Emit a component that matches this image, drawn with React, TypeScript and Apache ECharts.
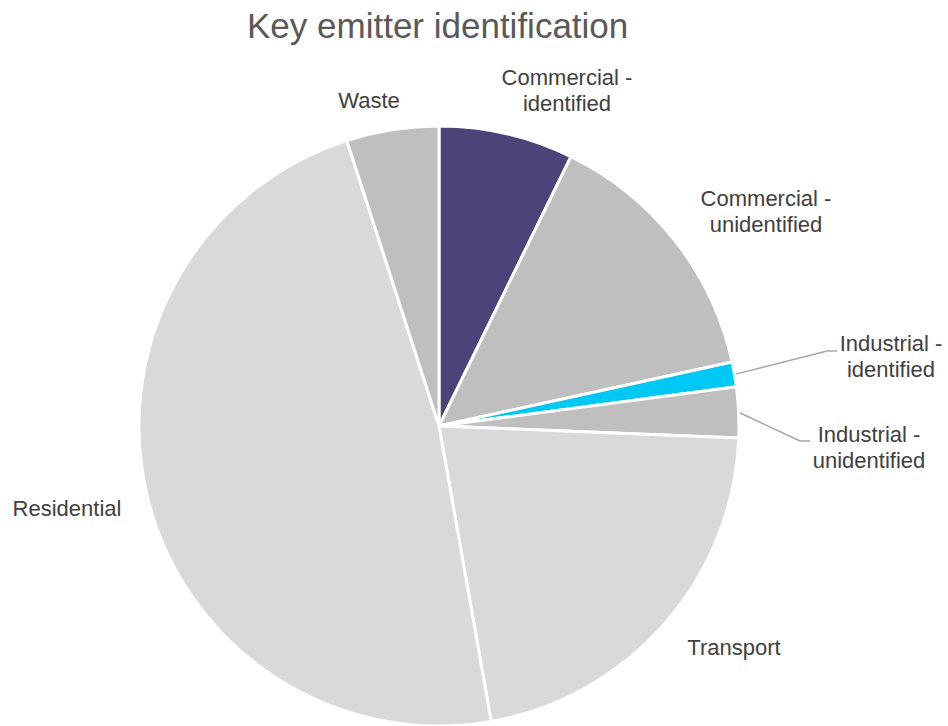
import React, { useEffect, useRef } from "react";
import * as echarts from "echarts";

const TITLE = "Key emitter identification";
const categories = [
  "Commercial - identified",
  "Commercial - unidentified",
  "Industrial - identified",
  "Industrial - unidentified",
  "Transport",
  "Residential",
  "Waste",
];
const shares = [7.25, 14.33, 1.33, 2.72, 21.58, 47.81, 4.97];
const colors = ["#4b4479", "#bfbfbf", "#00c8f5", "#bfbfbf", "#d9d9d9", "#d9d9d9", "#bfbfbf"];

// label centre positions (px) for each category
const labelPos: Record<string, [number, number]> = {
  "Commercial - identified": [567, 90],
  "Commercial - unidentified": [766, 211],
  "Industrial - identified": [891, 356],
  "Industrial - unidentified": [869, 447],
  Transport: [734, 647],
  Residential: [67, 508],
  Waste: [369, 100],
};
// leader line elbow points for labels with a connector
const leaderPts: Record<string, [number, number][]> = {
  "Industrial - identified": [[827, 351], [837, 351]],
  "Industrial - unidentified": [[800, 441], [810, 441]],
};

export default function App() {
  const ref = useRef<HTMLDivElement>(null);
  useEffect(() => {
    document.body.style.margin = "0";
    const chart = echarts.init(ref.current!, null, { renderer: "svg" });
    const font = "'Liberation Sans', Arial, sans-serif";
    chart.setOption({
      animation: false,
      title: {
        text: TITLE,
        left: 242,
        top: 3,
        textStyle: { fontSize: 35, fontWeight: "normal", color: "#595959", fontFamily: font },
      },
      series: [
        {
          type: "pie",
          center: [439, 426],
          radius: 300,
          startAngle: 90,
          clockwise: true,
          itemStyle: { borderColor: "#ffffff", borderWidth: 3 },
          label: {
            show: true,
            position: "outside",
            formatter: (p: any) => String(p.name).replace(" - ", " -\n"),
            fontSize: 22,
            lineHeight: 26,
            color: "#404040",
            fontFamily: font,
            align: "center",
            overflow: "none",
            width: 200,
          },
          edgeDistance: 0,
          labelLine: { show: false, lineStyle: { color: "#a6a6a6", width: 1.5 } },
          labelLayout: (params: any) => {
            const name = categories[params.dataIndex];
            const pos = labelPos[name];
            const res: any = { x: pos[0], y: pos[1], align: "center", verticalAlign: "middle" };
            const lp = leaderPts[name];
            if (lp) {
              const start = params.labelLinePoints && params.labelLinePoints[0]
                ? params.labelLinePoints[0]
                : [739, 400];
              res.labelLinePoints = [start, lp[0], lp[1]];
            }
            return res;
          },
          data: categories.map((c, i) => ({
            name: c,
            value: shares[i],
            itemStyle: { color: colors[i] },
            labelLine: { show: !!leaderPts[c] },
          })),
        },
      ],
    });
    return () => chart.dispose();
  }, []);
  return <div ref={ref} style={{ width: 948, height: 726 }} />;
}
